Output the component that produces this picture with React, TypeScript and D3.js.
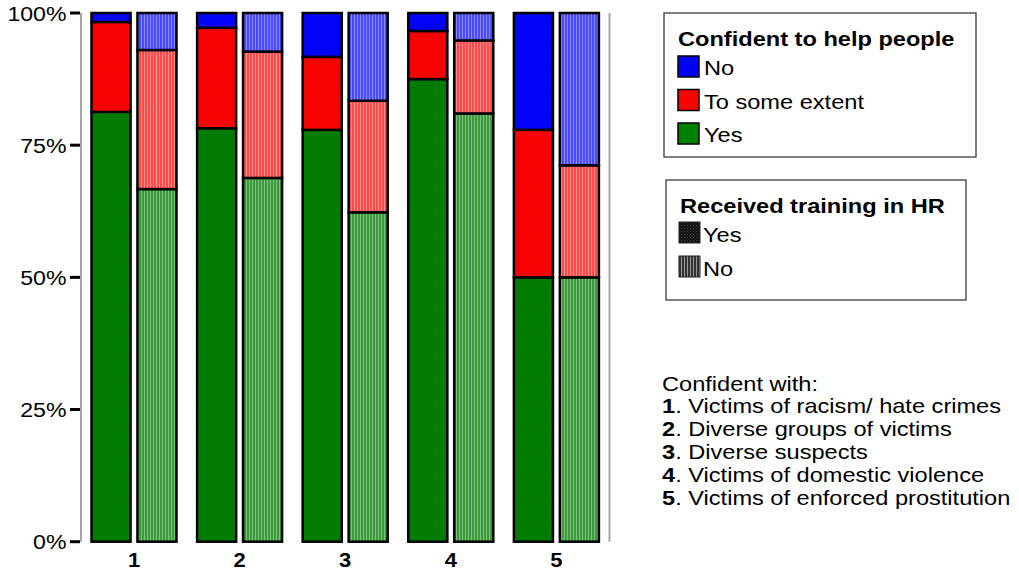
import React from "react";
import * as d3 from "d3";

const categories = ["1", "2", "3", "4", "5"];
const trainingGroups = ["Yes", "No"];
const responseKeys = ["Yes", "To some extent", "No"];
// Percentages per category, trained = Yes
const trainedYes_Yes = [81.3, 78.2, 77.9, 87.5, 50.0];
const trainedYes_Some = [17.0, 19.0, 13.8, 9.1, 27.9];
const trainedYes_No = [1.7, 2.8, 8.3, 3.4, 22.1];
// trained = No
const trainedNo_Yes = [66.7, 68.8, 62.3, 81.0, 50.0];
const trainedNo_Some = [26.3, 23.9, 21.1, 13.8, 21.2];
const trainedNo_No = [7.0, 7.3, 16.6, 5.2, 28.8];
const yTicks = [0, 25, 50, 75, 100];
const notes = [
  "Victims of racism/ hate crimes",
  "Diverse groups of victims",
  "Diverse suspects",
  "Victims of domestic violence",
  "Victims of enforced prostitution",
];

const colorsSolid: Record<string, [string, string]> = {
  Yes: ["#008000", "#0b6b0b"],
  "To some extent": ["#ff0000", "#e00808"],
  No: ["#0000ff", "#0a0ae0"],
};
const colorsStripe: Record<string, [string, string]> = {
  Yes: ["#3d9a3d", "#7cc07c"],
  "To some extent": ["#ff4a4a", "#ff8e8e"],
  No: ["#4a4aff", "#8a8aff"],
};
const pid = (k: string, t: string) =>
  `p-${t}-${k.replace(/\s+/g, "")}`;

const font = "'Liberation Sans', Arial, sans-serif";
const SX = 1.18;

function T(props: {
  x: number;
  y: number;
  size?: number;
  bold?: boolean;
  anchor?: string;
  sx?: number;
  children: React.ReactNode;
}) {
  const { x, y, size = 20, bold, anchor = "start", sx = SX, children } = props;
  return (
    <text
      transform={`translate(${x},${y}) scale(${sx},1)`}
      fontFamily={font}
      fontSize={size}
      fontWeight={bold ? "bold" : "normal"}
      textAnchor={anchor}
      fill="#000"
    >
      {children}
    </text>
  );
}

export default function App() {
  const W = 1019;
  const H = 571;
  const y = d3.scaleLinear().domain([0, 100]).range([541.7, 13]);
  const x = d3.scaleBand().domain(categories).range([81.2, 609.2]).padding(0);
  const sub = d3
    .scaleBand()
    .domain(trainingGroups)
    .range([-42.5, 42.5])
    .paddingInner(0.15);

  const data: Record<string, number[]>[] = categories.map((_, i) => ({
    Yes: [trainedYes_Yes[i], trainedYes_Some[i], trainedYes_No[i]],
    No: [trainedNo_Yes[i], trainedNo_Some[i], trainedNo_No[i]],
  })) as any;

  return (
    <svg width={W} height={H} style={{ position: "absolute", left: 0, top: 0 }}>
      <defs>
        {responseKeys.map((k) => (
          <pattern
            key={"s" + k}
            id={pid(k, "Yes")}
            width={3}
            height={3}
            patternUnits="userSpaceOnUse"
          >
            <rect width={3} height={3} fill={colorsSolid[k][0]} />
            <rect width={1} height={1} fill={colorsSolid[k][1]} />
            <rect x={1.5} y={1.5} width={1} height={1} fill={colorsSolid[k][1]} />
          </pattern>
        ))}
        {responseKeys.map((k) => (
          <pattern
            key={"t" + k}
            id={pid(k, "No")}
            width={3}
            height={10}
            patternUnits="userSpaceOnUse"
          >
            <rect width={3} height={10} fill={colorsStripe[k][0]} />
            <rect width={1} height={10} fill={colorsStripe[k][1]} />
          </pattern>
        ))}
        <pattern id="leg-yes" width={3} height={3} patternUnits="userSpaceOnUse">
          <rect width={3} height={3} fill="#111" />
          <rect width={1} height={1} fill="#444" />
          <rect x={1.5} y={1.5} width={1} height={1} fill="#333" />
        </pattern>
        <pattern id="leg-no" width={3} height={10} patternUnits="userSpaceOnUse">
          <rect width={3} height={10} fill="#333" />
          <rect width={1} height={10} fill="#999" />
        </pattern>
      </defs>

      {/* axis line */}
      <line x1={81} x2={81} y1={y(100)} y2={y(0)} stroke="#a6a6a6" strokeWidth={2} />
      <line x1={609.5} x2={609.5} y1={y(100)} y2={y(0)} stroke="#a6a6a6" strokeWidth={2} />
      {yTicks.map((t) => (
        <g key={t}>
          <line x1={70} x2={80} y1={y(t)} y2={y(t)} stroke="#000" strokeWidth={3} />
          <T x={66.5} y={y(t) + 7.5} size={21} anchor="end" sx={1.1}>
            {t}%
          </T>
        </g>
      ))}

      {categories.map((c, i) => {
        const cx = (x(c) as number) + x.bandwidth() / 2;
        return (
          <g key={c}>
            {trainingGroups.map((tg) => {
              const vals = data[i][tg];
              let acc = 0;
              const bx = cx + (sub(tg) as number);
              return (
                <g key={tg}>
                  {vals.map((v, j) => {
                    const y0 = acc;
                    acc += v;
                    const top = j === vals.length - 1 ? 100 : acc;
                    return (
                      <rect
                        key={j}
                        x={bx}
                        y={y(top)}
                        width={sub.bandwidth()}
                        height={y(y0) - y(top)}
                        fill={`url(#${pid(responseKeys[j], tg)})`}
                        stroke="#000"
                        strokeWidth={2.5}
                      />
                    );
                  })}
                </g>
              );
            })}
            <T x={cx} y={566.5} size={20} bold anchor="middle" sx={1.1}>
              {c}
            </T>
          </g>
        );
      })}

      {/* Legend 1 */}
      <rect x={664} y={13} width={312} height={144} fill="#fff" stroke="#555" strokeWidth={1.5} />
      <T x={678} y={45.5} bold>
        Confident to help people
      </T>
      {["No", "To some extent", "Yes"].map((k, i) => (
        <g key={k}>
          <rect
            x={678}
            y={56 + i * 33.5}
            width={21}
            height={21}
            fill={colorsSolid[k][0]}
            stroke="#000"
            strokeWidth={1.5}
          />
          <T x={704} y={75 + i * 33.5}>
            {k}
          </T>
        </g>
      ))}

      {/* Legend 2 */}
      <rect x={666} y={180} width={300} height={120} fill="#fff" stroke="#555" strokeWidth={1.5} />
      <T x={680} y={212.5} bold>
        Received training in HR
      </T>
      {trainingGroups.map((k, i) => (
        <g key={k}>
          <rect
            x={679}
            y={222 + i * 34}
            width={21}
            height={21}
            fill={k === "Yes" ? "url(#leg-yes)" : "url(#leg-no)"}
            stroke="#222"
            strokeWidth={1}
          />
          <T x={703} y={241.5 + i * 34}>
            {k}
          </T>
        </g>
      ))}

      {/* Notes */}
      <T x={662} y={390.5}>
        Confident with:
      </T>
      {notes.map((n, i) => (
        <T key={i} x={662} y={413.3 + i * 22.8}>
          <tspan fontWeight="bold">{i + 1}</tspan>. {n}
        </T>
      ))}
    </svg>
  );
}
